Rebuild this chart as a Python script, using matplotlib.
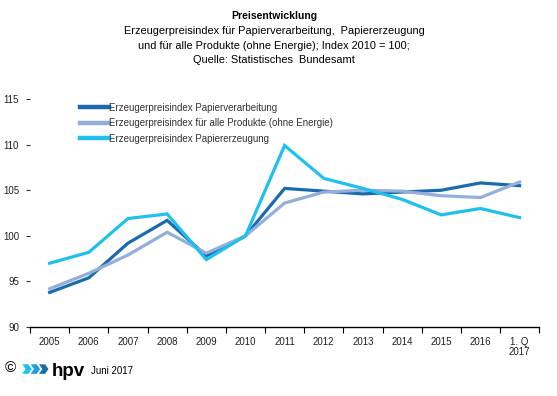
import matplotlib
matplotlib.use('Agg')
import matplotlib.pyplot as plt
from matplotlib.patches import Polygon
import numpy as np

plt.rcParams['font.family'] = ['Liberation Sans', 'DejaVu Sans']

# Kategorien und Indexwerte (2010 = 100)
categories = ['2005', '2006', '2007', '2008', '2009', '2010', '2011',
              '2012', '2013', '2014', '2015', '2016', '1. Q\n2017']
papierverarbeitung = [93.8, 95.4, 99.2, 101.7, 97.8, 100.0, 105.2,
                      104.9, 104.6, 104.8, 105.0, 105.8, 105.5]
alle_produkte = [94.2, 95.9, 97.9, 100.4, 98.1, 100.0, 103.6,
                 104.8, 105.0, 104.9, 104.4, 104.2, 105.9]
papiererzeugung = [97.0, 98.2, 101.9, 102.4, 97.4, 100.0, 109.9,
                   106.3, 105.2, 104.0, 102.3, 103.0, 102.0]
yticks = [90, 95, 100, 105, 110, 115]

series = [
    ('Erzeugerpreisindex Papierverarbeitung', papierverarbeitung, '#1A6BAE'),
    ('Erzeugerpreisindex für alle Produkte (ohne Energie)', alle_produkte, '#93AEDB'),
    ('Erzeugerpreisindex Papiererzeugung', papiererzeugung, '#1EC0EE'),
]

fig = plt.figure(figsize=(5.57, 3.96), dpi=100)
ax = fig.add_axes([0.054, 0.174, 0.914, 0.576])

x = np.arange(len(categories))
for label, vals, color in series:
    ax.plot(x, vals, color=color, linewidth=2.3, label=label,
            solid_joinstyle='miter', clip_on=False)

ax.set_xlim(-0.5, len(categories) - 0.5)
ax.set_ylim(90, 115)
ax.set_yticks(yticks)
ax.tick_params(axis='y', length=3, width=0.8, pad=5, labelsize=7,
               color='#333333', labelcolor='#222222')

# Ticks an den Kategoriegrenzen, Beschriftung in der Mitte
ax.set_xticks(np.arange(-0.5, len(categories), 1.0))
ax.set_xticklabels([])
ax.set_xticks(x, minor=True)
ax.set_xticklabels(categories, minor=True, fontsize=7, linespacing=1.0)
ax.tick_params(axis='x', which='major', length=4, width=0.8)
ax.tick_params(axis='x', which='minor', length=0, pad=7, labelcolor='#222222')

for s in ['top', 'right', 'left']:
    ax.spines[s].set_visible(False)
ax.spines['bottom'].set_linewidth(1.0)

leg = ax.legend(loc='upper left', bbox_to_anchor=(0.09, 1.0), frameon=False,
                fontsize=7, handlelength=3.0, handletextpad=0.0,
                labelspacing=0.55, borderaxespad=0.0)
for line in leg.get_lines():
    line.set_linewidth(3.2)
for t in leg.get_texts():
    t.set_color('#333333')

# Titel
fig.text(0.492, 0.960, 'Preisentwicklung', ha='center', va='center',
         fontsize=7.5, fontweight='bold')
fig.text(0.492, 0.922, 'Erzeugerpreisindex für Papierverarbeitung,  Papiererzeugung',
         ha='center', va='center', fontsize=7.9)
fig.text(0.492, 0.884, 'und für alle Produkte (ohne Energie); Index 2010 = 100;',
         ha='center', va='center', fontsize=7.9)
fig.text(0.492, 0.848, 'Quelle: Statistisches  Bundesamt',
         ha='center', va='center', fontsize=7.9)

# Fußzeile mit Logo
fig.text(0.008, 0.070, '©', ha='left', va='center', fontsize=11)
for i, c in enumerate(['#1EC0EE', '#1A9FDF', '#1A6BAE']):
    x0 = 0.040 + i * 0.015
    pts = [(x0, 0.080), (x0 + 0.011, 0.080), (x0 + 0.017, 0.068),
           (x0 + 0.011, 0.056), (x0, 0.056), (x0 + 0.006, 0.068)]
    fig.patches.append(Polygon(pts, closed=True, transform=fig.transFigure,
                               facecolor=c, edgecolor='none'))
fig.text(0.093, 0.063, 'hpv', ha='left', va='center', fontsize=13.5,
         fontweight='bold')
fig.text(0.163, 0.063, 'Juni 2017', ha='left', va='center', fontsize=7)

fig.savefig('out.png', dpi=100)
